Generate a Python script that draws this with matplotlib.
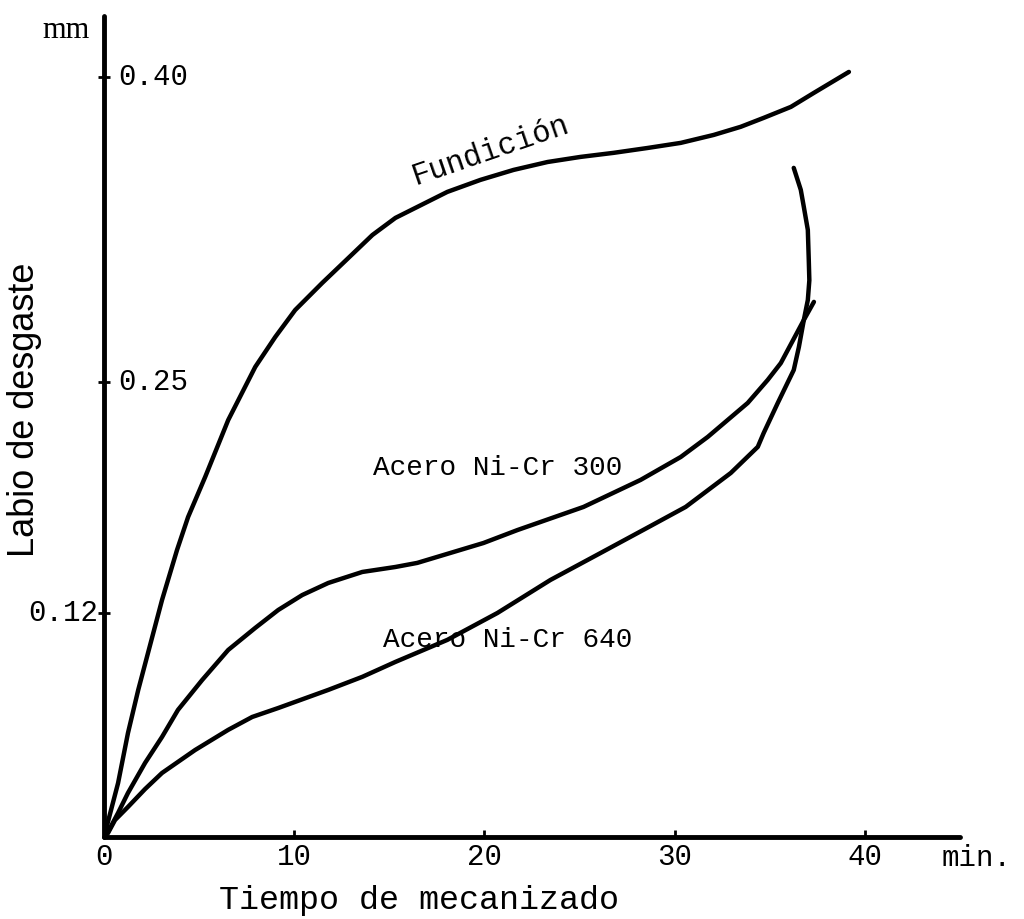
import numpy as np
import matplotlib
matplotlib.use('Agg')
import matplotlib.pyplot as plt

# Tiempo de mecanizado (min) y labio de desgaste (mm)
fund_t = [0, 0.74, 1.26, 1.8, 2.35, 3.05, 3.84, 4.42, 5.32, 6.53, 7.95,
          9.0, 10.05, 11.47, 12.68, 14.11, 15.32, 18.05, 19.79, 21.53, 23.32,
          25.05, 26.79, 28.58, 30.32, 32.05, 33.47, 34.68, 36.11, 37.32, 39.16]
fund_d = [0, 0.0289, 0.0557, 0.0788, 0.100, 0.1273, 0.1555, 0.1740,
          0.1966, 0.2286, 0.2574, 0.2721, 0.2854, 0.2987, 0.3095, 0.3223,
          0.3307, 0.3435, 0.3494, 0.3543, 0.3582, 0.3607, 0.3627, 0.3651,
          0.3676, 0.3715, 0.3755, 0.3799, 0.3853, 0.3922, 0.4025]

a300_t = [0, 0.21, 0.74, 1.26, 2.16, 3.05, 3.89, 5.16, 6.53, 7.95, 9.16, 10.42,
          11.79, 13.58, 15.32, 16.47, 19.95, 21.74, 25.21, 28.21, 30.32, 31.74,
          33.84, 34.89, 35.58, 36.79, 37.32]
a300_d = [0, 0.0027, 0.0129, 0.0236, 0.0397, 0.0536, 0.0681, 0.0841, 0.1002,
          0.1120, 0.1217, 0.1301, 0.1369, 0.1431, 0.1459, 0.1482, 0.1594,
          0.1667, 0.1797, 0.1949, 0.2078, 0.2191, 0.2382, 0.2510, 0.2593,
          0.2805, 0.2894]

a640_t = [0, 0.21, 0.58, 1.26, 2.16, 3.05, 4.79, 6.53, 7.79, 9.16, 11.79, 13.58,
          15.32, 18.05, 20.68, 23.47, 26.11, 28.74, 30.58, 32.95, 34.37, 34.68,
          35.42, 36.26, 36.53, 36.79, 37.0, 37.08, 37.05, 37.0, 36.79, 36.63,
          36.26]
a640_d = [0, 0.0021, 0.0091, 0.0161, 0.0257, 0.0343, 0.0466, 0.0574, 0.0643,
          0.0691, 0.0788, 0.0858, 0.0938, 0.1056, 0.1200, 0.1386, 0.1538,
          0.1690, 0.1797, 0.1988, 0.2135, 0.2213, 0.2382, 0.2559, 0.2672,
          0.2805, 0.2903, 0.3000, 0.3100, 0.3248, 0.3361, 0.3445, 0.3553]

x_ticks = [0, 10, 20, 30, 40]
y_ticks = [0.12, 0.25, 0.40]
y_tick_labels = ['0.12', '0.25', '0.40']

# la escala vertical del original no es del todo lineal (dibujada a mano)
knot_v = [-1.0, 0.0, 0.12, 0.25, 0.40, 1.0]
knot_h = [-1867.0, 0.0, 224.0, 455.0, 760.0, 1980.0]


def fwd(v):
    return np.interp(v, knot_v, knot_h)


def inv(h):
    return np.interp(h, knot_h, knot_v)


mono = 'Liberation Mono'
sans = 'Liberation Sans'

fig = plt.figure(figsize=(10.24, 9.19), dpi=100)
ax = fig.add_axes([104 / 1024, 82 / 919, 856 / 1024, 821 / 919])
ax.set_yscale('function', functions=(fwd, inv))
ax.set_xlim(0, 45.0)
ax.set_ylim(0, 0.430)

lw = 3.2
for t, d in [(fund_t, fund_d), (a300_t, a300_d), (a640_t, a640_d)]:
    ax.plot(t, d, 'k-', lw=lw, solid_capstyle='round', solid_joinstyle='round')

for s in ['top', 'right']:
    ax.spines[s].set_visible(False)
for s in ['left', 'bottom']:
    ax.spines[s].set_linewidth(3.5)
    ax.spines[s].set_capstyle('round')

ax.set_xticks(x_ticks)
ax.set_xticklabels([str(v) for v in x_ticks], fontfamily=mono, fontsize=21)
ax.tick_params(axis='x', direction='in', length=5, width=2, pad=4)
ax.set_yticks(y_ticks)
ax.set_yticklabels([])
ax.tick_params(axis='y', direction='inout', length=8, width=2)
ax.yaxis.set_minor_locator(plt.NullLocator())

# etiquetas del eje y: 0.40 y 0.25 a la derecha, 0.12 a la izquierda
for v, lab in zip(y_ticks, y_tick_labels):
    if v < 0.2:
        ax.text(-0.3, v, lab, ha='right', va='center', fontfamily=mono, fontsize=21)
    else:
        ax.text(0.75, v, lab, ha='left', va='center', fontfamily=mono, fontsize=21)

ax.text(20.3, 0.364, 'Fundición', rotation=19, ha='center', va='center',
        fontfamily=mono, fontsize=22)
ax.text(20.7, 0.2016, 'Acero Ni-Cr 300', ha='center', va='center',
        fontfamily=mono, fontsize=20)
ax.text(21.2, 0.1056, 'Acero Ni-Cr 640', ha='center', va='center',
        fontfamily=mono, fontsize=20)

fig.text(66 / 1024, 1 - 30 / 919, 'mm', ha='center', va='center',
         fontfamily='Liberation Serif', fontsize=22)
fig.text(977 / 1024, 1 - 858 / 919, 'min.', ha='center', va='center',
         fontfamily=mono, fontsize=21)
fig.text(419 / 1024, 1 - 900 / 919, 'Tiempo de mecanizado', ha='center',
         va='center', fontfamily=mono, fontsize=24)
fig.text(25 / 1024, 1 - 410 / 919, 'Labio de desgaste', rotation=90,
         ha='center', va='center', fontfamily=sans, fontsize=26)

fig.savefig('out.png', dpi=100)
